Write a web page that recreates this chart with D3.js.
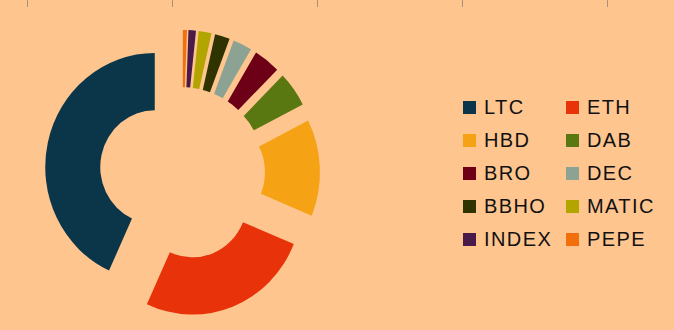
<!DOCTYPE html>
<html><head><meta charset="utf-8">
<script src="https://cdn.jsdelivr.net/npm/d3@7"></script>
<style>html,body{margin:0;padding:0;background:#ffc58f;overflow:hidden}</style>
</head><body>
<svg id="c" width="674" height="330"></svg>
<script>
const categories = ["LTC","ETH","HBD","DAB","BRO","DEC","BBHO","MATIC","INDEX","PEPE"];
const values = [43.1,25.6,13.7,5.0,3.9,2.8,2.2,1.9,1.1,0.6];
const colors = ["#0b3549","#e8320a","#f5a315","#5a7811","#6d0017","#8ca394","#2f3300","#b3a500","#4a1b48","#f26f0e"];
const tickPositions = [0,1,2,3,4];

const svg = d3.select("#c");
svg.append("rect").attr("width",674).attr("height",330).attr("fill","#ffc58f");

// top axis ticks (cropped chart above)
const tx = d3.scaleLinear().domain([0,4]).range([27,607]);
svg.selectAll("line.tk").data(tickPositions).enter().append("line")
  .attr("x1",d=>tx(d)+0.5).attr("x2",d=>tx(d)+0.5).attr("y1",0).attr("y2",7)
  .attr("stroke","#a8927c").attr("stroke-width",1);

const cx=182.3, cy=173.3, R=109.5, r=54.5, explode=28.2, sy=1.041;
const pie = d3.pie().sort(null).startAngle(0).endAngle(-2*Math.PI);
const arcs = pie(values);
const arc = d3.arc().innerRadius(r).outerRadius(R);
const g = svg.append("g").attr("transform",`translate(${cx},${cy}) scale(1,${sy})`);
g.selectAll("path").data(arcs).enter().append("path")
  .attr("d",arc)
  .attr("fill",(d,i)=>colors[i])
  .attr("transform",d=>{
    const a=(d.startAngle+d.endAngle)/2;
    return `translate(${explode*Math.sin(a)},${-explode*Math.cos(a)})`;
  });

// legend
const lg = svg.append("g");
const items = lg.selectAll("g").data(categories).enter().append("g")
  .attr("transform",(d,i)=>`translate(${i%2===0?463:566},${101+33*Math.floor(i/2)})`);
items.append("rect").attr("width",13).attr("height",13).attr("fill",(d,i)=>colors[i]);
items.append("text").attr("x",21).attr("y",12.5)
  .attr("font-family","Liberation Sans, Arial, sans-serif").attr("font-size",20)
  .attr("letter-spacing",1.4).attr("fill","#111").text(d=>d);
</script>
</body></html>
